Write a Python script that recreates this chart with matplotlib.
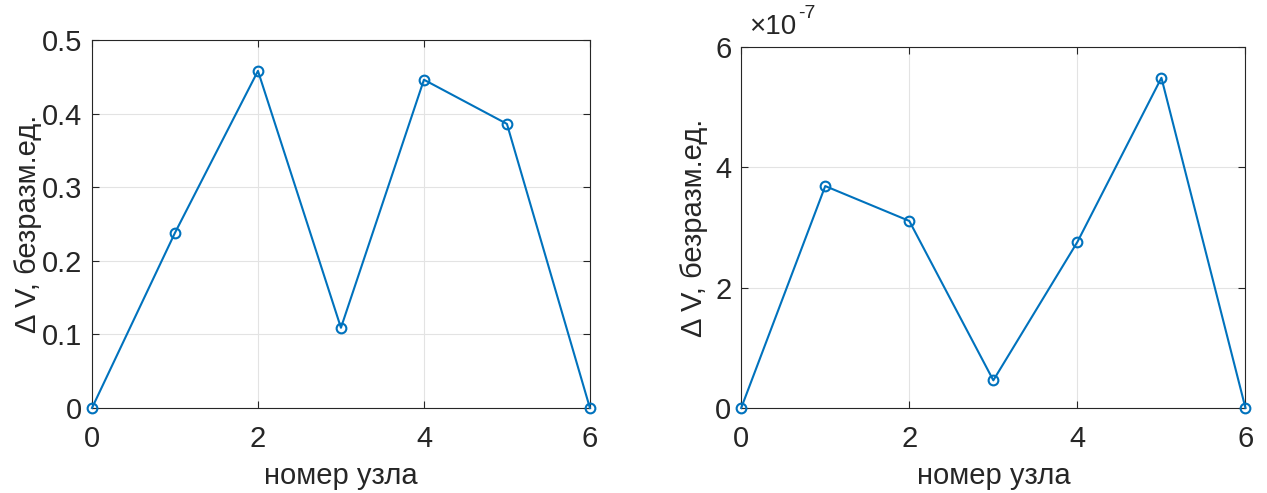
import numpy as np
import matplotlib
matplotlib.use('Agg')
import matplotlib.pyplot as plt
import matplotlib.ticker as ticker

plt.rcParams['font.family'] = ['Liberation Sans Narrow', 'Liberation Sans', 'DejaVu Sans']

# номера узлов и отклонения напряжения
nodes = [0, 1, 2, 3, 4, 5, 6]
dv_left = [0.0, 0.238, 0.458, 0.109, 0.446, 0.386, 0.0]
dv_right = [0.0, 3.69e-7, 3.11e-7, 0.46e-7, 2.76e-7, 5.49e-7, 0.0]

left_yticks = [0, 0.1, 0.2, 0.3, 0.4, 0.5]
right_yticks = [0, 2e-7, 4e-7, 6e-7]
xticks = [0, 2, 4, 6]

blue = '#0072BD'
dark = '#262626'

fig = plt.figure(figsize=(12.67, 4.93), dpi=100)
ax1 = fig.add_axes([0.0726, 0.1724, 0.393, 0.7465])
ax2 = fig.add_axes([0.585, 0.1724, 0.398, 0.732])

for ax, y, yt, ylim, lp in [(ax1, dv_left, left_yticks, (0, 0.5), 0),
                            (ax2, dv_right, right_yticks, (0, 6e-7), 5)]:
    ax.plot(nodes, y, color=blue, linewidth=1.5, marker='o', markersize=7,
            markerfacecolor='none', markeredgewidth=1.5, clip_on=False, zorder=3)
    ax.set_xlim(0, 6)
    ax.set_ylim(*ylim)
    ax.set_xticks(xticks)
    ax.set_yticks(yt)
    ax.grid(True, color='#e3e3e3', linewidth=0.8)
    ax.set_axisbelow(True)
    ax.tick_params(direction='in', length=5, width=0.8, colors=dark,
                   labelsize=21, top=True, right=True, pad=7)
    ax.tick_params(axis='x', pad=12)
    for s in ax.spines.values():
        s.set_color(dark)
        s.set_linewidth(0.8)
    ax.set_xlabel('номер узла', fontsize=21, color=dark, labelpad=7)
    ax.set_ylabel('Δ V, безразм.ед.', fontsize=21, color=dark, labelpad=lp)

ax1.yaxis.set_major_formatter(ticker.FuncFormatter(lambda v, p: '0' if v == 0 else f'{v:.1f}'))
ax2.yaxis.set_major_formatter(ticker.FuncFormatter(lambda v, p: f'{v / 1e-7:.0f}'))
ax2.text(0.016, 1.02, '×10', transform=ax2.transAxes, fontsize=20, color=dark,
         ha='left', va='bottom')
ax2.text(0.113, 1.07, '-7', transform=ax2.transAxes, fontsize=14, color=dark,
         ha='left', va='bottom')

fig.savefig('out.png', dpi=100)
